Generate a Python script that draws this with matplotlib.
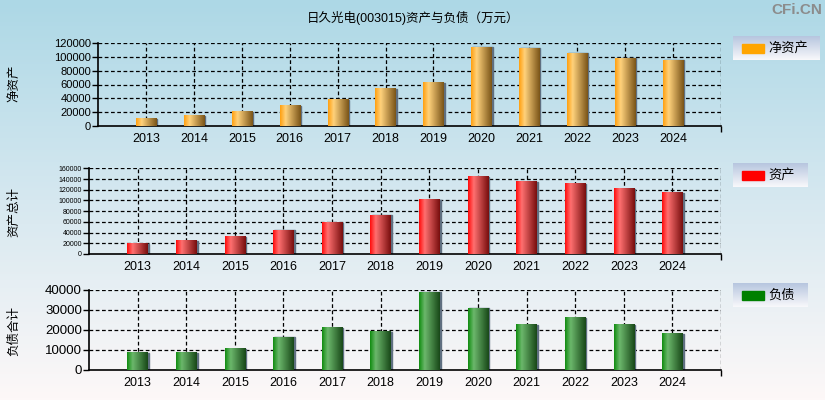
import matplotlib
matplotlib.use('Agg')
import matplotlib.pyplot as plt
import numpy as np
from matplotlib.colors import LinearSegmentedColormap
from matplotlib.patches import Rectangle

plt.rcParams['font.family'] = ['Liberation Sans', 'Noto Sans CJK SC', 'DejaVu Sans']

years = [2013, 2014, 2015, 2016, 2017, 2018, 2019, 2020, 2021, 2022, 2023, 2024]
net_assets = [10500, 14800, 20600, 29200, 37800, 53500, 62200, 113800, 112400, 105200, 98000, 95100]
total_assets = [19300, 24900, 32400, 44800, 58500, 72800, 100900, 143800, 134500, 130700, 121400, 113900]
liabilities = [8600, 8600, 10600, 16300, 21100, 19100, 39000, 31000, 22600, 26100, 22600, 18100]

title = '日久光电(003015)资产与负债（万元）'


def bar_cmap(c0, c1, c2):
    return LinearSegmentedColormap.from_list('g', [(0, c0), (0.27, c1), (1, c2)])


def gradient_bars(ax, xs, vals, cmap, width=0.42):
    grad = np.linspace(0, 1, 64).reshape(1, -1)
    for x, v in zip(xs, vals):
        # thin grey shadow on the right side
        ax.add_patch(Rectangle((x - width / 2 + 0.022, 0), width, v, color='#5f6f80', zorder=2))
        ax.imshow(grad, cmap=cmap, extent=(x - width / 2, x + width / 2, 0, v),
                  aspect='auto', zorder=3, interpolation='bilinear')


def setup_axes(ax, ymax, ystep, ylabel, yfs, label_y):
    ax.set_xlim(2012, 2025)
    ax.set_ylim(0, ymax)
    ax.set_facecolor('none')
    ax.set_yticks(np.arange(0, ymax + 1, ystep))
    ax.set_xticks(years)
    ax.set_xticks([2025], minor=True)
    ax.tick_params(axis='x', which='major', length=0, labelsize=9, pad=5)
    ax.tick_params(axis='x', which='minor', length=4, width=1, direction='out')
    ax.tick_params(axis='y', length=4, width=1, labelsize=yfs, pad=1, colors='black')
    for s in ['top', 'right']:
        ax.spines[s].set_visible(False)
    for s in ['left', 'bottom']:
        ax.spines[s].set_linewidth(1.2)
    for y in np.arange(ystep, ymax + 1, ystep):
        ax.axhline(y, color='black', lw=0.9, ls=(0, (3, 2)), zorder=1)
    for x in years + [2025]:
        ax.axvline(x, color='black', lw=0.9, ls=(0, (3, 2)), zorder=1)
    plt.gcf().text(14 / 825, label_y, ylabel, rotation=90, ha='center', va='center', fontsize=9)


def legend_box(fig, x0, y0, w, h, color, text):
    lax = fig.add_axes([x0 / 825, 1 - (y0 + h) / 400, w / 825, h / 400])
    grad = np.linspace(0, 1, 50).reshape(-1, 1)
    cmap = LinearSegmentedColormap.from_list('l', ['#b7c6df', '#f8f8fb'])
    lax.imshow(grad, cmap=cmap, extent=(0, w, 0, h), aspect='auto')
    lax.add_patch(Rectangle((9, h / 2 - 4.5), 22, 9, color=color))
    lax.text(35, h / 2, text, va='center', ha='left', fontsize=9.5)
    lax.set_xlim(0, w)
    lax.set_ylim(0, h)
    lax.axis('off')


def main():
    fig = plt.figure(figsize=(8.25, 4), dpi=100)

    bg = fig.add_axes([0, 0, 1, 1], zorder=-10)
    t = np.linspace(0, 1, 200).reshape(-1, 1)
    bgmap = LinearSegmentedColormap.from_list('bg', ['#add8e6', '#d6e8f0', '#fdf8f8'])
    bg.imshow(t, cmap=bgmap, aspect='auto', extent=(0, 1, 0, 1), origin='upper')
    bg.axis('off')

    fig.text(413 / 825, 1 - 18 / 400, title, ha='center', va='center', fontsize=9)
    fig.text(822 / 825, 1 - 10 / 400, 'CFi.CN', ha='right', va='center', fontsize=11,
             fontweight='bold', color='#8c8c8c')

    ax1 = fig.add_axes([98 / 825, 1 - 126 / 400, 623 / 825, 83 / 400])
    gradient_bars(ax1, years, net_assets, bar_cmap('#ffa010', '#ffd27c', '#7a5418'))
    setup_axes(ax1, 120000, 20000, '净资产', 8, 1 - 83 / 400)

    ax2 = fig.add_axes([89 / 825, 1 - 254 / 400, 632 / 825, 85.7 / 400])
    gradient_bars(ax2, years, total_assets, bar_cmap('#ff0c0c', '#ff7070', '#780e0e'))
    setup_axes(ax2, 160000, 20000, '资产总计', 5, 1 - 212 / 400)

    ax3 = fig.add_axes([89 / 825, 1 - 370 / 400, 632 / 825, 80 / 400])
    gradient_bars(ax3, years, liabilities, bar_cmap('#108c10', '#6cb86c', '#184818'))
    setup_axes(ax3, 40000, 10000, '负债合计', 9.5, 1 - 331 / 400)

    legend_box(fig, 733, 36, 87, 24, '#ffa500', '净资产')
    legend_box(fig, 733, 163, 75, 24, '#ff0000', '资产')
    legend_box(fig, 733, 283, 75, 24, '#008000', '负债')

    fig.savefig('out.png', dpi=100)


if __name__ == '__main__':
    main()
